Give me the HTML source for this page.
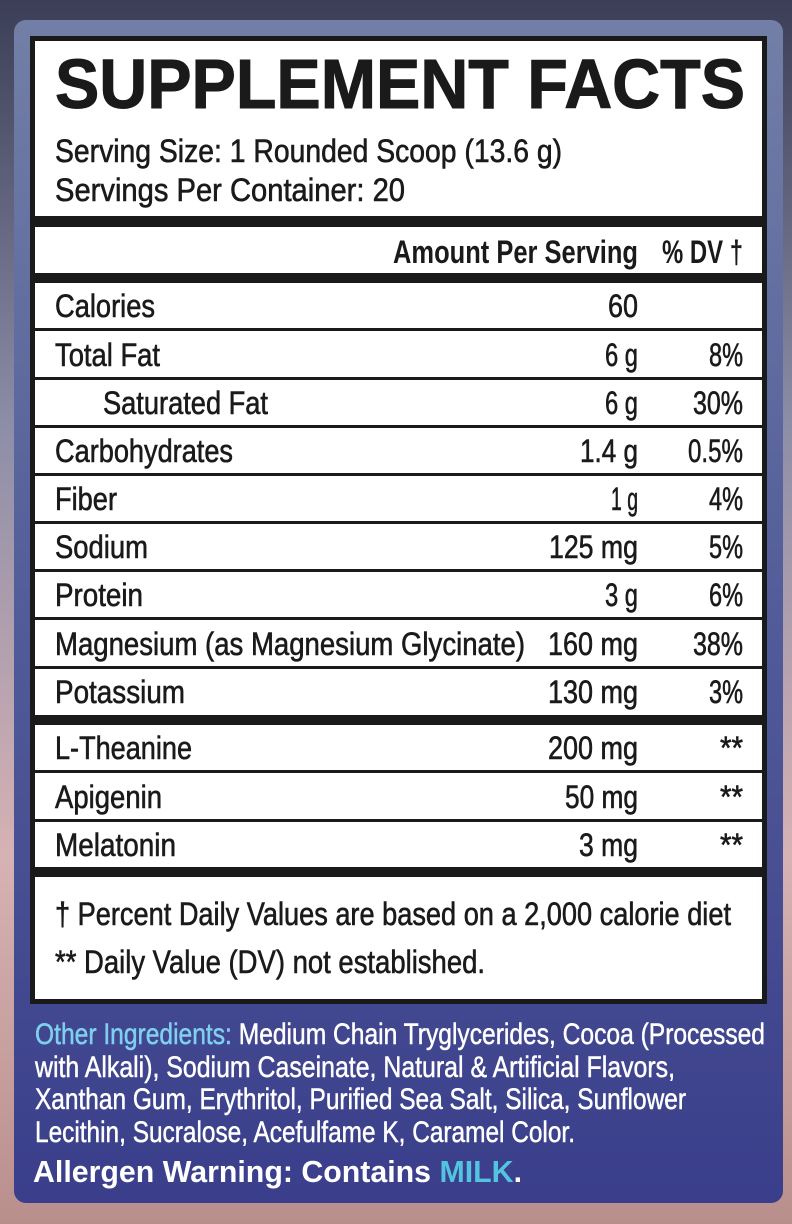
<!DOCTYPE html>
<html><head><meta charset="utf-8"><style>
html,body{margin:0;padding:0;width:792px;height:1224px;overflow:hidden}
svg{display:block}
</style></head><body>
<svg width="792" height="1224" viewBox="0 0 792 1224" xmlns="http://www.w3.org/2000/svg" font-family="'Liberation Sans', sans-serif">
<defs>
<linearGradient id="bg" x1="0" y1="0" x2="0" y2="1">
<stop offset="0" stop-color="#3b3e57"/><stop offset="0.35" stop-color="#8d8ea8"/><stop offset="0.7" stop-color="#d6b2b4"/><stop offset="1" stop-color="#b98f8c"/>
</linearGradient>
<linearGradient id="panel" x1="0" y1="0" x2="0" y2="1">
<stop offset="0" stop-color="#727fa6"/><stop offset="0.5" stop-color="#525c99"/><stop offset="1" stop-color="#3a3e8b"/>
</linearGradient>
</defs>
<rect width="792" height="1224" fill="url(#bg)"/>
<rect x="14" y="20" width="769" height="1183" rx="12" fill="url(#panel)"/>
<rect x="30" y="36" width="737" height="968" fill="#1a1a1a"/>
<rect x="35" y="41" width="727" height="958" fill="#fff"/>
<g fill="#1a1a1a">
<rect x="30" y="216" width="737" height="11"/>
<rect x="30" y="273" width="737" height="10"/>
<rect x="30" y="328" width="737" height="3"/>
<rect x="30" y="377" width="737" height="3"/>
<rect x="30" y="425" width="737" height="3"/>
<rect x="30" y="473" width="737" height="3"/>
<rect x="30" y="521" width="737" height="3"/>
<rect x="30" y="569" width="737" height="3"/>
<rect x="30" y="617" width="737" height="3"/>
<rect x="30" y="666" width="737" height="3"/>
<rect x="30" y="715" width="737" height="10"/>
<rect x="30" y="770" width="737" height="3"/>
<rect x="30" y="819" width="737" height="3"/>
<rect x="30" y="867" width="737" height="10"/>
</g>
<g fill="#1a1a1a">
<text x="55" y="108" font-size="70" font-weight="bold" textLength="690" lengthAdjust="spacingAndGlyphs" stroke="#1a1a1a" stroke-width="1">SUPPLEMENT FACTS</text>
<g stroke="#1a1a1a" stroke-width="0.6">
<text x="55" y="162" font-size="32" textLength="507" lengthAdjust="spacingAndGlyphs">Serving Size: 1 Rounded Scoop (13.6 g)</text>
<text x="55" y="201" font-size="32" textLength="350" lengthAdjust="spacingAndGlyphs">Servings Per Container: 20</text>
</g>
<text x="393" y="263" font-size="32" font-weight="bold" textLength="245" lengthAdjust="spacingAndGlyphs">Amount Per Serving</text>
<text x="662" y="263" font-size="32" font-weight="bold" textLength="81" lengthAdjust="spacingAndGlyphs">% DV †</text>
</g>
<g fill="#1a1a1a" font-size="32" stroke="#1a1a1a" stroke-width="0.6">
<text x="55" y="317" textLength="100" lengthAdjust="spacingAndGlyphs">Calories</text>
<text x="55" y="366" textLength="105" lengthAdjust="spacingAndGlyphs">Total Fat</text>
<text x="103" y="414" textLength="165" lengthAdjust="spacingAndGlyphs">Saturated Fat</text>
<text x="55" y="462" textLength="178" lengthAdjust="spacingAndGlyphs">Carbohydrates</text>
<text x="55" y="510" textLength="62" lengthAdjust="spacingAndGlyphs">Fiber</text>
<text x="55" y="558" textLength="93" lengthAdjust="spacingAndGlyphs">Sodium</text>
<text x="55" y="606" textLength="88" lengthAdjust="spacingAndGlyphs">Protein</text>
<text x="55" y="655" textLength="470" lengthAdjust="spacingAndGlyphs">Magnesium (as Magnesium Glycinate)</text>
<text x="55" y="703" textLength="130" lengthAdjust="spacingAndGlyphs">Potassium</text>
<text x="55" y="759" textLength="137" lengthAdjust="spacingAndGlyphs">L-Theanine</text>
<text x="55" y="808" textLength="107" lengthAdjust="spacingAndGlyphs">Apigenin</text>
<text x="55" y="856" textLength="121" lengthAdjust="spacingAndGlyphs">Melatonin</text>

<text x="608" y="317" textLength="30" lengthAdjust="spacingAndGlyphs">60</text>
<text x="605" y="366" textLength="33" lengthAdjust="spacingAndGlyphs">6 g</text>
<text x="605" y="414" textLength="33" lengthAdjust="spacingAndGlyphs">6 g</text>
<text x="580" y="462" textLength="58" lengthAdjust="spacingAndGlyphs">1.4 g</text>
<text x="611" y="510" textLength="27" lengthAdjust="spacingAndGlyphs">1 g</text>
<text x="549" y="558" textLength="89" lengthAdjust="spacingAndGlyphs">125 mg</text>
<text x="605" y="606" textLength="33" lengthAdjust="spacingAndGlyphs">3 g</text>
<text x="548" y="655" textLength="90" lengthAdjust="spacingAndGlyphs">160 mg</text>
<text x="548" y="703" textLength="90" lengthAdjust="spacingAndGlyphs">130 mg</text>
<text x="548" y="759" textLength="90" lengthAdjust="spacingAndGlyphs">200 mg</text>
<text x="565" y="808" textLength="73" lengthAdjust="spacingAndGlyphs">50 mg</text>
<text x="579" y="856" textLength="59" lengthAdjust="spacingAndGlyphs">3 mg</text>

<text x="709" y="366" textLength="34" lengthAdjust="spacingAndGlyphs">8%</text>
<text x="693" y="414" textLength="50" lengthAdjust="spacingAndGlyphs">30%</text>
<text x="688" y="462" textLength="55" lengthAdjust="spacingAndGlyphs">0.5%</text>
<text x="709" y="510" textLength="34" lengthAdjust="spacingAndGlyphs">4%</text>
<text x="709" y="558" textLength="34" lengthAdjust="spacingAndGlyphs">5%</text>
<text x="709" y="606" textLength="34" lengthAdjust="spacingAndGlyphs">6%</text>
<text x="693" y="655" textLength="50" lengthAdjust="spacingAndGlyphs">38%</text>
<text x="709" y="703" textLength="34" lengthAdjust="spacingAndGlyphs">3%</text>
<text x="720" y="759" textLength="23" lengthAdjust="spacingAndGlyphs">**</text>
<text x="720" y="808" textLength="23" lengthAdjust="spacingAndGlyphs">**</text>
<text x="720" y="856" textLength="23" lengthAdjust="spacingAndGlyphs">**</text>

<text x="55" y="925" textLength="676" lengthAdjust="spacingAndGlyphs">† Percent Daily Values are based on a 2,000 calorie diet</text>
<text x="55" y="973" textLength="430" lengthAdjust="spacingAndGlyphs">** Daily Value (DV) not established.</text>
</g>
<g fill="#ffffff" font-size="30" stroke="#ffffff" stroke-width="0.5">
<text x="35" y="1044" textLength="730" lengthAdjust="spacingAndGlyphs"><tspan fill="#7fd0ef" stroke="#7fd0ef">Other Ingredients:</tspan> Medium Chain Tryglycerides, Cocoa (Processed</text>
<text x="35" y="1077" textLength="640" lengthAdjust="spacingAndGlyphs">with Alkali), Sodium Caseinate, Natural &amp; Artificial Flavors,</text>
<text x="35" y="1109" textLength="651" lengthAdjust="spacingAndGlyphs">Xanthan Gum, Erythritol, Purified Sea Salt, Silica, Sunflower</text>
<text x="35" y="1142" textLength="540" lengthAdjust="spacingAndGlyphs">Lecithin, Sucralose, Acefulfame K, Caramel Color.</text>
</g>
<text x="33" y="1182" font-size="31" fill="#fff" font-weight="bold" textLength="489" lengthAdjust="spacingAndGlyphs">Allergen Warning: Contains <tspan fill="#52c4e0">MILK</tspan>.</text>
</svg>
</body></html>
